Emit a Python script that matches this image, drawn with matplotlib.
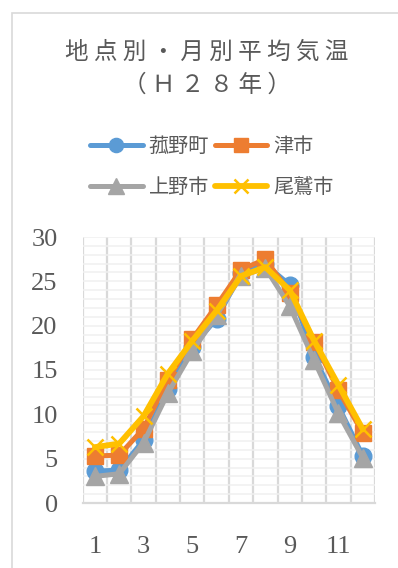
import numpy as np
from matplotlib import pyplot as plt
from matplotlib.patches import Rectangle
from matplotlib.ticker import MultipleLocator

# data (monthly mean temperature, H28)
MONTHS = list(range(1, 13))
KOMONO = [3.6, 3.7, 7.1, 12.9, 17.6, 20.8, 25.9, 26.9, 24.6, 16.5, 10.9, 5.3]
TSU = [5.3, 5.4, 8.4, 13.9, 18.5, 22.3, 26.3, 27.5, 23.7, 18.2, 12.7, 7.9]
UENO = [3.0, 3.3, 6.8, 12.4, 17.1, 21.2, 25.6, 26.5, 22.2, 16.1, 10.1, 5.1]
OWASE = [6.3, 6.7, 9.8, 14.6, 18.3, 21.7, 25.6, 26.6, 24.0, 18.3, 13.3, 8.3]

SERIES = [
    ("菰野町", KOMONO, "#5B9BD5", "o", 12),
    ("津市", TSU, "#ED7D31", "s", 12),
    ("上野市", UENO, "#A5A5A5", "^", 13),
    ("尾鷲市", OWASE, "#FFC000", "x", 12),
]

TITLE = "地 点 別 ・ 月 別 平 均 気 温\n（ Ｈ ２ ８ 年 ）"
TEXT_COLOR = "#595959"
CJK = ["Noto Sans CJK JP", "DejaVu Sans"]
SERIF = "Liberation Serif"

W, H = 398, 568
fig = plt.figure(figsize=(W / 100, H / 100), dpi=100)

# chart border (cut off at right / bottom like the screenshot)
fig.add_artist(Rectangle((12 / W, -0.1), 1.2, 1 - 13 / H + 0.1, transform=fig.transFigure,
                         fill=False, edgecolor="#d9d9d9", linewidth=1.2))

ax = fig.add_axes([82.7 / W, 65 / H, (375 - 82.7) / W, (503 - 237) / H])

handles = []
for name, vals, color, marker, ms in SERIES:
    kw = dict(color=color, linewidth=3.6, marker=marker, markersize=ms, label=name,
              solid_joinstyle="round", solid_capstyle="round")
    if marker == "x":
        kw.update(markeredgewidth=1.8, linewidth=4.2)
    else:
        kw.update(markeredgecolor=color)
    line, = ax.plot(MONTHS, vals, **kw)
    handles.append(line)

ax.set_xlim(0.5, 12.5)
ax.set_ylim(0, 30)
ax.set_xticks([1, 3, 5, 7, 9, 11])
ax.xaxis.set_minor_locator(plt.FixedLocator(np.arange(0.5, 13, 1)))
ax.yaxis.set_major_locator(MultipleLocator(5))
ax.yaxis.set_minor_locator(MultipleLocator(1))

ax.grid(True, which="minor", axis="y", color="#f0f0f0", linewidth=1.1, zorder=0)
ax.grid(True, which="major", axis="y", color="#f0f0f0", linewidth=1.1, zorder=0)
ax.grid(True, which="minor", axis="x", color="#d9d9d9", linewidth=1.6, zorder=0)
ax.set_axisbelow(True)

for side in ["top", "right", "left"]:
    ax.spines[side].set_visible(False)
ax.spines["bottom"].set_color("#d9d9d9")
ax.spines["bottom"].set_linewidth(1.6)

ax.tick_params(which="both", length=0)
ax.tick_params(axis="x", pad=24)
ax.tick_params(axis="y", pad=18)
for lab in ax.get_xticklabels() + ax.get_yticklabels():
    lab.set_fontfamily(SERIF)
    lab.set_fontsize(19)
    lab.set_color(TEXT_COLOR)

fig.text(207 / W, 1 - 69 / H, TITLE, ha="center", va="center", fontsize=17,
         color=TEXT_COLOR, family=CJK, linespacing=1.55)

# legend fills column-wise, so order handles to read row by row
order = [0, 2, 1, 3]
leg = fig.legend(handles=[handles[i] for i in order], ncol=2, loc="center",
                 bbox_to_anchor=(212 / W, 1 - 167 / H),
                 frameon=False, prop={"family": CJK, "size": 14.5}, handlelength=2.6,
                 handletextpad=0.3, columnspacing=0.3, labelspacing=1.0, markerscale=0.85,
                 borderpad=0)
for t in leg.get_texts():
    t.set_color(TEXT_COLOR)

fig.savefig("out.png", dpi=100)
